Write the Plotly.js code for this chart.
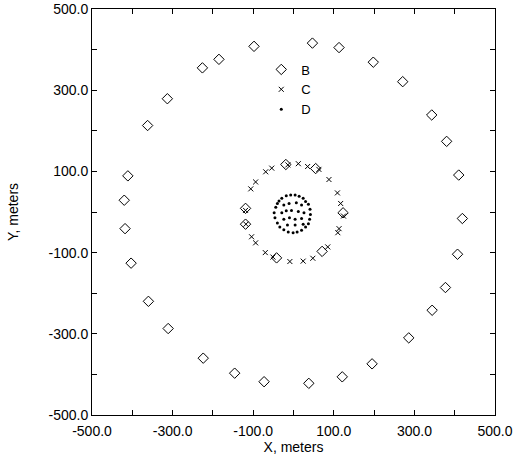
<!DOCTYPE html>
<html>
<head>
<meta charset="utf-8">
<script src="https://cdn.plot.ly/plotly-3.0.1.min.js"></script>
<style>html,body{margin:0;padding:0;background:#fff;}#chart{width:514px;height:457px;}</style>
</head>
<body>
<div id="chart"></div>
<script>
// Series B (open diamonds): outer ring and some on the middle ring
const bX = [-98, -185, -226, -313, -362, -411, -420, -418, -403, -360, -311, -224, -146, -73, 38, 121, 195, 286, 344, 377, 407, 419, 410, 380, 343, 271, 198, 113, 47,
            -19, 55, 123, -119, -119, -42, 71];
const bY = [408, 376, 355, 279, 213, 89, 29, -41, -126, -220, -287, -360, -397, -418, -422, -406, -374, -310, -242, -186, -104, -16, 91, 174, 239, 321, 369, 405, 416,
            117, 107, -2, 9, -30, -113, -97];

// Series C (x marks): middle ring
const cX = [-69, -54, 12, 35, 63, 88, 109, 117, 124, 113, 110, 85, 48, 24, -9, -51, -70, -94, -104, -119, -106, -94, -14, -118];
const cY = [99, 108, 119, 112, 105, 80, 47, 21, -10, -41, -51, -86, -114, -121, -122, -111, -100, -76, -61, 4, 57, 74, 116, -30];

// Series D (small dots): inner cluster
const dX = [-36, -29, -18, -7, 4, 14, 24, 30, 37, 41, 42, 40, 37, 30, 20, 9, -1, -13, -24, -34, -40, -46, -48, -44, -40,
            -24, -11, 7, 20, -29, -18, -5, 12, 26, -24, -10, 4, 20, -15, 4, 24];
const dY = [27, 34, 40, 42, 42, 39, 34, 26, 19, 7, -6, -18, -29, -37, -45, -49, -51, -49, -44, -37, -27, -14, -2, 12, 21,
            17, 21, 23, 17, -2, 3, 4, 1, -2, -18, -14, -18, -16, -32, -32, -30];

const names = ['B', 'C', 'D'];
const tickVals = [-500, -300, -100, 100, 300, 500];
const tickText = ['-500.0', '-300.0', '-100.0', '100.0', '300.0', '500.0'];

const traces = [
  {x: bX, y: bY, name: names[0], type: 'scatter', mode: 'markers',
   marker: {symbol: 'diamond-open', size: 8, color: '#000', line: {width: 1, color: '#000'}}},
  {x: cX, y: cY, name: names[1], type: 'scatter', mode: 'markers',
   marker: {symbol: 'x-thin-open', size: 5, color: '#000', line: {width: 1, color: '#000'}}},
  {x: dX, y: dY, name: names[2], type: 'scatter', mode: 'markers',
   marker: {symbol: 'circle', size: 3, color: '#000', line: {width: 0}}}
];

const axisBase = {
  range: [-500, 500], showgrid: false, zeroline: false,
  showline: true, linecolor: '#000', linewidth: 1, mirror: 'allticks',
  ticks: 'inside', ticklen: 5, tickwidth: 1, tickcolor: '#000',
  tickmode: 'array', tickvals: tickVals, ticktext: tickText,
  minor: {tickmode: 'linear', tick0: -500, dtick: 100, ticks: 'inside', ticklen: 5, tickwidth: 1, tickcolor: '#000'},
  tickfont: {family: 'Liberation Sans, Arial, sans-serif', size: 14, color: '#000'}
};

const layout = {
  width: 514, height: 457,
  margin: {l: 92, r: 19, t: 9, b: 42},
  paper_bgcolor: '#fff', plot_bgcolor: '#fff',
  font: {family: 'Liberation Sans, Arial, sans-serif', size: 14, color: '#000'},
  xaxis: Object.assign({}, axisBase, {ticklabelstandoff: 3, title: {text: 'X, meters', standoff: 3, font: {size: 14}}}),
  yaxis: Object.assign({}, axisBase, {title: {text: 'Y, meters', standoff: 26, font: {size: 14}}}),
  showlegend: true,
  legend: {x: 0.42, y: 0.888, xanchor: 'left', yanchor: 'top', bgcolor: 'rgba(0,0,0,0)',
           borderwidth: 0, tracegroupgap: 0, itemwidth: 30,
           font: {family: 'Liberation Sans, Arial, sans-serif', size: 13, color: '#000'}}
};

Plotly.newPlot('chart', traces, layout, {staticPlot: true, displayModeBar: false});
</script>
</body>
</html>
